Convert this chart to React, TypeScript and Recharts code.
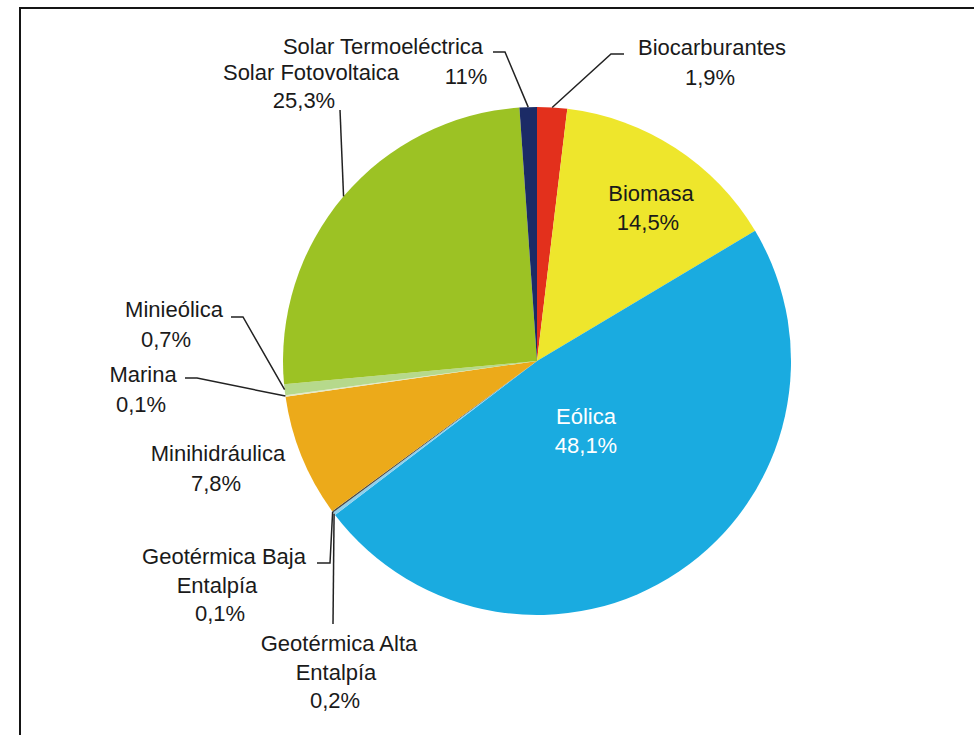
import React from "react";
import { PieChart, Pie, Cell } from "recharts";

const names = [
  "Biocarburantes",
  "Biomasa",
  "Eólica",
  "Geotérmica Alta\nEntalpía",
  "Geotérmica Baja\nEntalpía",
  "Minihidráulica",
  "Marina",
  "Minieólica",
  "Solar Fotovoltaica",
  "Solar Termoeléctrica",
];
const values = [1.9, 14.5, 48.1, 0.2, 0.1, 7.8, 0.1, 0.7, 25.3, 1.1];
const valueLabels = ["1,9%", "14,5%", "48,1%", "0,2%", "0,1%", "7,8%", "0,1%", "0,7%", "25,3%", "11%"];
const colors = [
  "#E3301C",
  "#EEE62C",
  "#1AABE0",
  "#8FD0EC",
  "#4A4A4A",
  "#ECAA1A",
  "#E4E8C8",
  "#B6D98C",
  "#9CC224",
  "#1B2B66",
];

const data = names.map((n, i) => ({ name: n, value: values[i], label: valueLabels[i] }));

type Layout = {
  lines: [number, number][];
  leader?: [number, number][];
  angle?: number;
  color?: string;
};
const layouts: Layout[] = [
  { lines: [[712, 47], [710, 77]], leader: [[624, 54], [611, 54]] },
  { lines: [[651, 193], [648, 222]] },
  { lines: [[586, 416], [586, 445]], color: "#ffffff" },
  { lines: [[339, 643], [336, 672], [335, 700]], leader: [[333, 624]] },
  { lines: [[224, 556], [217, 585], [220, 613]], leader: [[317, 563], [330, 563]] },
  { lines: [[218, 453], [216, 483]] },
  { lines: [[143, 374], [141, 404]], leader: [[185, 378], [197, 378]] },
  { lines: [[174, 309], [166, 339]], leader: [[231, 317], [243, 317]] },
  { lines: [[311, 72], [304, 100]], leader: [[340, 110]], angle: 139.6 },
  { lines: [[383, 46], [466, 76]], leader: [[493, 52], [505, 52]] },
];

const RAD = Math.PI / 180;

const renderLabel = (props: any) => {
  const { cx, cy, midAngle, outerRadius, index } = props;
  const lay = layouts[index];
  if (!lay) return null;
  const nameLines = String(names[index]).split("\n");
  const textLines = [...nameLines, valueLabels[index]];
  const fill = lay.color || "#1a1a1a";
  let leader = null;
  if (lay.leader) {
    const ang = lay.angle !== undefined ? lay.angle : midAngle;
    const ex = cx + outerRadius * Math.cos(-ang * RAD);
    const ey = cy + outerRadius * Math.sin(-ang * RAD);
    const pts = [...lay.leader, [ex, ey]].map((p) => p.join(",")).join(" ");
    leader = <polyline points={pts} fill="none" stroke="#222" strokeWidth={1.5} />;
  }
  return (
    <g key={`lbl-${index}`}>
      {leader}
      {textLines.map((t, j) => {
        const pos = lay.lines[Math.min(j, lay.lines.length - 1)];
        return (
          <text
            key={j}
            x={pos[0]}
            y={pos[1]}
            textAnchor="middle"
            dominantBaseline="central"
            fill={fill}
            fontSize={22}
            fontFamily="'Liberation Sans', Arial, sans-serif"
          >
            {t}
          </text>
        );
      })}
    </g>
  );
};

export default function App() {
  return (
    <div style={{ position: "absolute", left: 0, top: 0, width: 974, height: 735, background: "#fff", overflow: "hidden" }}>
      <div
        style={{
          position: "absolute",
          left: 19,
          top: 7,
          width: 1000,
          height: 800,
          borderLeft: "2.5px solid #151515",
          borderTop: "2.5px solid #151515",
        }}
      />
      <div style={{ position: "absolute", left: 0, top: 0 }}>
        <PieChart width={974} height={735} margin={{ top: 0, right: 0, bottom: 0, left: 0 }}>
          <Pie
            data={data}
            dataKey="value"
            nameKey="name"
            cx={537}
            cy={361}
            outerRadius={254}
            startAngle={90}
            endAngle={-270}
            stroke="none"
            isAnimationActive={false}
            label={renderLabel}
            labelLine={false}
          >
            {data.map((d, i) => (
              <Cell key={i} fill={colors[i]} />
            ))}
          </Pie>
        </PieChart>
      </div>
    </div>
  );
}
